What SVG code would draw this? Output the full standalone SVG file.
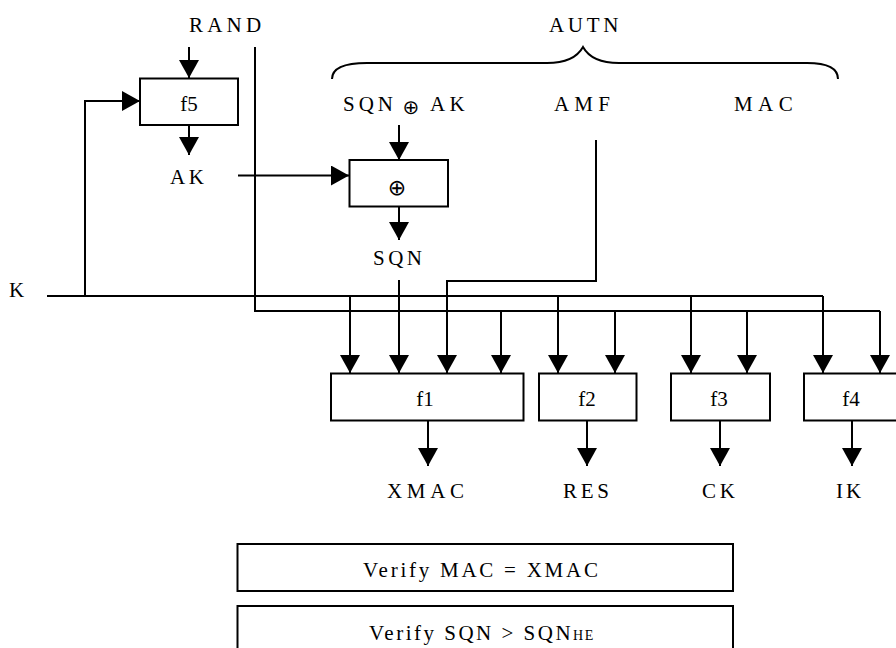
<svg xmlns="http://www.w3.org/2000/svg" width="896" height="648" viewBox="0 0 896 648">
  <style>
    .box { fill: #fff; stroke: #000; stroke-width: 2; }
    .ln { fill: none; stroke: #000; stroke-width: 2; }
    .arr { fill: none; stroke: #000; stroke-width: 2; marker-end: url(#ah); }
  </style>
  <defs>
    <marker id="ah" markerUnits="userSpaceOnUse" viewBox="0 0 18 20" refX="18" refY="10" markerWidth="18" markerHeight="20" orient="auto">
      <path d="M0,0 L18,10 L0,20 z" fill="#000"/>
    </marker>
  </defs>

  <rect width="896" height="648" fill="#fff"/>

  <g font-family="'Liberation Serif', 'Times New Roman', serif" font-size="21" fill="#000">
  <g id="labels">
    <text x="189" y="32" letter-spacing="4.2">RAND</text>
    <text x="549" y="32" letter-spacing="3.7">AUTN</text>
    <path class="ln" d="M332,79 C332,68 345,63 367,63 L547,63 C568,63 578,56 583,47 C588,56 598,63 619,63 L807,63 C828,63 838,68 838,79"/>
    <text x="343" y="111" letter-spacing="4">SQN</text>
    <text x="411" y="114" font-family="'DejaVu Sans', sans-serif" font-size="20" text-anchor="middle">⊕</text>
    <text x="430" y="111" letter-spacing="4.3">AK</text>
    <text x="554" y="111" letter-spacing="5.2">AMF</text>
    <text x="734" y="111" letter-spacing="5.4">MAC</text>
    <text x="170" y="184" letter-spacing="3.7">AK</text>
    <text x="373" y="265" letter-spacing="3.5">SQN</text>
    <text x="9" y="297">K</text>
    <text x="387" y="498" letter-spacing="4.7">XMAC</text>
    <text x="563" y="498" letter-spacing="3.75">RES</text>
    <text x="702" y="498" letter-spacing="3.8">CK</text>
    <text x="836" y="498" letter-spacing="3">IK</text>
  </g>

  <g id="f5">
    <rect class="box" x="140" y="78.5" width="98" height="46.5"/>
    <text x="189" y="111" text-anchor="middle">f5</text>
  </g>
  <g id="xor">
    <rect class="box" x="349.5" y="160" width="98.5" height="46.5"/>
    <text x="397" y="195" font-family="'DejaVu Sans', sans-serif" font-size="22" text-anchor="middle">⊕</text>
  </g>
  <g id="f1">
    <rect class="box" x="331" y="373.5" width="192.5" height="47"/>
    <text x="425" y="406" text-anchor="middle">f1</text>
  </g>
  <g id="f2">
    <rect class="box" x="539" y="373.5" width="97.5" height="47"/>
    <text x="587" y="406" text-anchor="middle">f2</text>
  </g>
  <g id="f3">
    <rect class="box" x="671" y="373.5" width="99" height="47"/>
    <text x="719" y="406" text-anchor="middle">f3</text>
  </g>
  <g id="f4">
    <rect class="box" x="804" y="373.5" width="95" height="47"/>
    <text x="851" y="406" text-anchor="middle">f4</text>
  </g>
  <g id="verify-mac">
    <rect class="box" x="237.5" y="544" width="495.5" height="47"/>
    <text x="363" y="577" letter-spacing="2.75">Verify MAC = XMAC</text>
  </g>
  <g id="verify-sqn">
    <rect class="box" x="237.5" y="606" width="495.5" height="60"/>
    <text x="369" y="640" letter-spacing="2.5">Verify SQN &gt; SQN<tspan font-size="14" letter-spacing="1.5">HE</tspan></text>
  </g>
  </g>

  <g id="connectors">
    <path class="arr" d="M189,47 V78"/>
    <path class="arr" d="M189,125 V155"/>
    <path class="arr" d="M85,296 V101 H140"/>
    <path class="arr" d="M238,175.5 H349"/>
    <path class="arr" d="M399,125 V160"/>
    <path class="arr" d="M399,207 V240"/>
    <path class="arr" d="M399,280 V373"/>
    <path class="arr" d="M596,140 V281 H447 V373"/>
    <path class="ln" d="M47,296 H823"/>
    <path class="ln" d="M255,47 V311 H880"/>
    <path class="arr" d="M350,296 V373"/>
    <path class="arr" d="M558,296 V373"/>
    <path class="arr" d="M691,296 V373"/>
    <path class="arr" d="M823,296 V373"/>
    <path class="arr" d="M501,311 V373"/>
    <path class="arr" d="M615,311 V373"/>
    <path class="arr" d="M747,311 V373"/>
    <path class="arr" d="M880,311 V373"/>
    <path class="arr" d="M428,420 V466"/>
    <path class="arr" d="M587,420 V466"/>
    <path class="arr" d="M720,420 V466"/>
    <path class="arr" d="M852,420 V466"/>
  </g>
</svg>
